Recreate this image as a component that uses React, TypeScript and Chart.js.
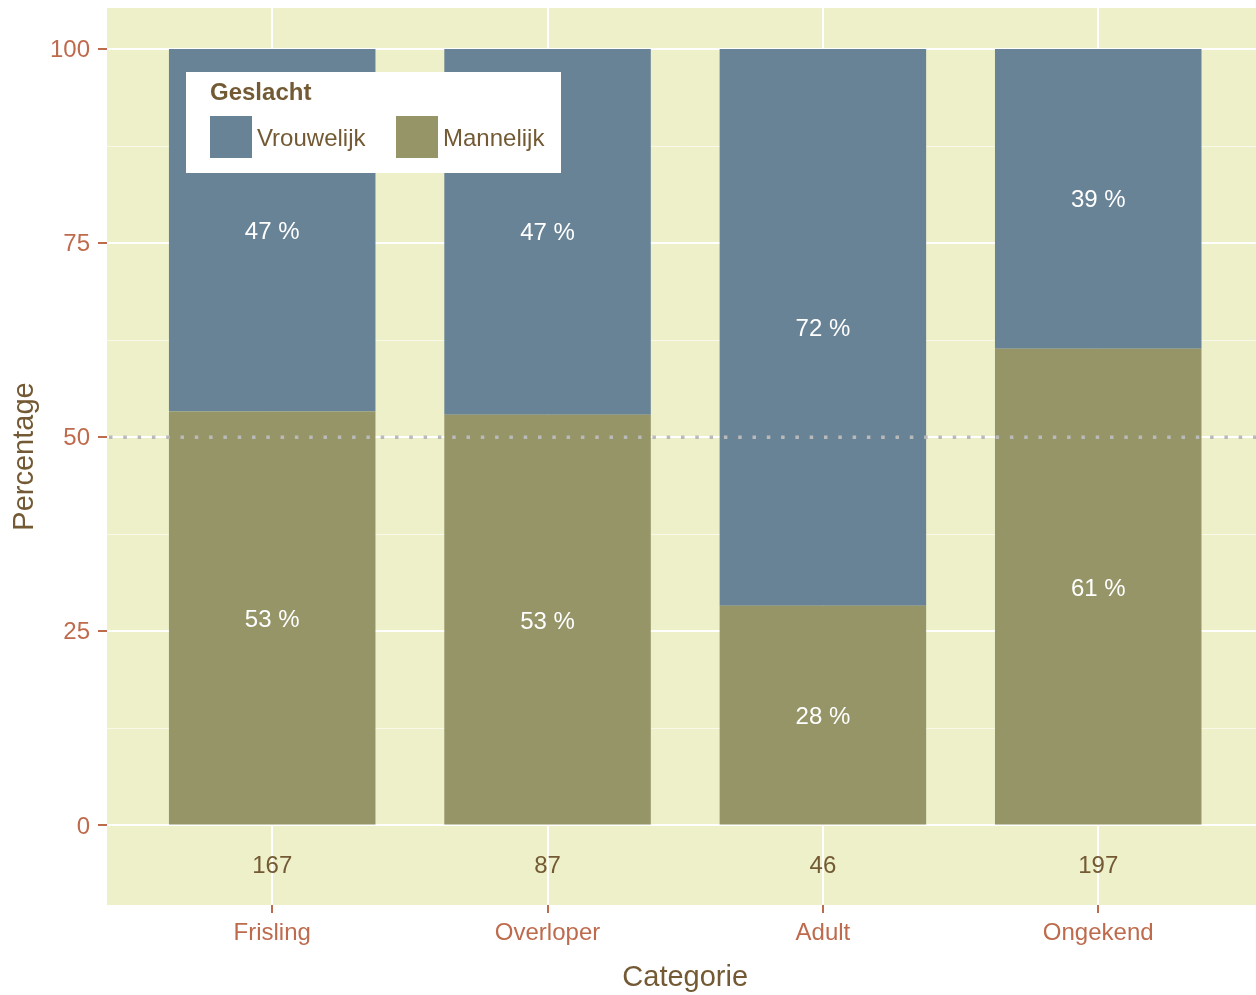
import React, { useEffect, useRef } from "react";
import { Chart, registerables } from "chart.js";

Chart.register(...registerables);

// ---- data ----
const categories = ["Frisling", "Overloper", "Adult", "Ongekend"];
const totals = [167, 87, 46, 197];
const mannelijk = [53.3, 52.9, 28.3, 61.4];
const vrouwelijk = [46.7, 47.1, 71.7, 38.6];
const yTicks = [0, 25, 50, 75, 100];
const yMinorTicks = [12.5, 37.5, 62.5, 87.5];
const seriesNames = ["Mannelijk", "Vrouwelijk"];
const legendTitle = "Geslacht";
const xTitle = "Categorie";
const yTitle = "Percentage";
const refLine = 50;
const countLabelValue = -5;

// ---- styles ----
const FONT = "'Liberation Sans', Arial, Helvetica, sans-serif";
const PANEL = "#EDF0C8";
const BLUE = "#698396";
const OLIVE = "#969568";
const RUST = "#BE6A4C";
const BROWN = "#735A34";
const SMALL = 24;
const BIG = 29;
const DIGIT_HALF = 0.358 * SMALL;
const X_MIN = -0.6;
const X_FULL_MAX = 3.6; // ggplot's panel end (image clips it)

const ggPlugin = {
  id: "ggPanel",
  beforeDraw(chart: any) {
    const { ctx, chartArea: a, scales } = chart;
    ctx.save();
    ctx.fillStyle = "#ffffff";
    ctx.fillRect(0, 0, chart.width, chart.height);
    ctx.fillStyle = PANEL;
    ctx.fillRect(a.left, a.top, a.right - a.left, a.bottom - a.top);
    ctx.strokeStyle = "rgba(255,255,255,0.6)";
    ctx.lineWidth = 1;
    for (const v of yMinorTicks) {
      const y = Math.round(scales.y.getPixelForValue(v)) + 0.5;
      ctx.beginPath();
      ctx.moveTo(a.left, y);
      ctx.lineTo(a.right, y);
      ctx.stroke();
    }
    ctx.restore();
  },
  afterDatasetsDraw(chart: any) {
    const { ctx, chartArea: a, scales, data } = chart;
    ctx.save();
    ctx.font = `${SMALL}px ${FONT}`;
    ctx.textAlign = "center";
    ctx.textBaseline = "alphabetic";
    ctx.fillStyle = "#ffffff";
    categories.forEach((_, i) => {
      let base = 0;
      data.datasets.forEach((ds: any) => {
        const v = ds.data[i].y;
        const mid = base + v / 2;
        ctx.fillText(
          `${Math.round(v)} %`,
          scales.x.getPixelForValue(i),
          scales.y.getPixelForValue(mid) + DIGIT_HALF
        );
        base += v;
      });
    });
    ctx.fillStyle = BROWN;
    totals.forEach((t, i) => {
      ctx.fillText(
        String(t),
        scales.x.getPixelForValue(i),
        scales.y.getPixelForValue(countLabelValue) + DIGIT_HALF
      );
    });
    // dotted reference line
    const y50 = scales.y.getPixelForValue(refLine);
    ctx.strokeStyle = "#B9B9B9";
    ctx.lineWidth = 3.5;
    ctx.setLineDash([3.5, 10.8]);
    ctx.beginPath();
    ctx.moveTo(a.left + 2, y50);
    ctx.lineTo(a.right, y50);
    ctx.stroke();
    ctx.restore();
  },
  afterDraw(chart: any) {
    const { ctx, chartArea: a, data, scales } = chart;
    ctx.save();
    // x axis title, centred on the full (clipped) ggplot panel
    ctx.fillStyle = BROWN;
    ctx.font = `${BIG}px ${FONT}`;
    ctx.textAlign = "center";
    ctx.textBaseline = "alphabetic";
    ctx.fillText(xTitle, scales.x.getPixelForValue((X_MIN + X_FULL_MAX) / 2), 986);
    // legend
    const bx = a.left + 79;
    const by = a.top + 64;
    const bw = 375;
    const bh = 101;
    ctx.fillStyle = "#ffffff";
    ctx.fillRect(bx, by, bw, bh);
    ctx.fillStyle = BROWN;
    ctx.textAlign = "left";
    ctx.font = `bold ${SMALL}px ${FONT}`;
    ctx.fillText(legendTitle, bx + 24, by + 27.5);
    ctx.font = `${SMALL}px ${FONT}`;
    const items = [...data.datasets].reverse();
    const keyX = [bx + 24, bx + 210];
    items.forEach((ds: any, k: number) => {
      const kx = keyX[k];
      const ky = by + 44;
      ctx.fillStyle = ds.backgroundColor;
      ctx.fillRect(kx, ky, 42, 42);
      ctx.fillStyle = BROWN;
      ctx.fillText(ds.label, kx + 47, ky + 30);
    });
    ctx.restore();
  },
};

export default function App() {
  const ref = useRef<HTMLCanvasElement | null>(null);

  useEffect(() => {
    if (!ref.current) return;
    const chart = new Chart(ref.current, {
      type: "bar",
      data: {
        datasets: [
          {
            label: seriesNames[0],
            data: mannelijk.map((v, i) => ({ x: i, y: v })),
            backgroundColor: OLIVE,
            borderWidth: 0,
            barPercentage: 0.75,
            categoryPercentage: 1,
          },
          {
            label: seriesNames[1],
            data: vrouwelijk.map((v, i) => ({ x: i, y: v })),
            backgroundColor: BLUE,
            borderWidth: 0,
            barPercentage: 0.75,
            categoryPercentage: 1,
          },
        ],
      },
      options: {
        animation: false,
        responsive: false,
        layout: { padding: { top: 8, left: 0, right: 0, bottom: 0 } },
        plugins: {
          legend: { display: false },
          tooltip: { enabled: false },
        },
        scales: {
          x: {
            type: "linear",
            stacked: true,
            min: X_MIN,
            max: 3.573,
            offset: false,
            afterBuildTicks: (s: any) => {
              s.ticks = categories.map((_, i) => ({ value: i }));
            },
            afterFit: (s: any) => {
              s.height = 90;
              s.paddingLeft = 0;
              s.paddingRight = 0;
            },
            ticks: {
              callback: (v: any) => categories[v as number],
              color: RUST,
              font: { family: FONT, size: SMALL },
              padding: 6,
              maxRotation: 0,
              autoSkip: false,
            },
            grid: {
              offset: false,
              color: "#ffffff",
              lineWidth: 2,
              tickColor: RUST,
              tickLength: 8,
              tickWidth: 2,
            },
            border: { display: false },
            title: { display: false },
          },
          y: {
            type: "linear",
            stacked: true,
            min: -10.24,
            max: 105.28,
            afterBuildTicks: (s: any) => {
              s.ticks = yTicks.map((v) => ({ value: v }));
            },
            afterFit: (s: any) => {
              s.width = 107;
              s.paddingTop = 0;
              s.paddingBottom = 0;
            },
            ticks: {
              color: RUST,
              font: { family: FONT, size: SMALL },
              padding: 8,
              labelOffset: 1.5,
              autoSkip: false,
            },
            grid: {
              color: "#ffffff",
              lineWidth: 2,
              tickColor: RUST,
              tickLength: 9,
              tickWidth: 2,
            },
            border: { display: false },
            title: {
              display: true,
              text: yTitle,
              color: BROWN,
              font: { family: FONT, size: BIG },
              padding: { top: 8, bottom: 0 },
            },
          },
        },
      } as any,
      plugins: [ggPlugin],
    });
    return () => chart.destroy();
  }, []);

  return (
    <div style={{ position: "absolute", left: 0, top: 0, width: 1256, height: 995, overflow: "hidden" }}>
      <canvas ref={ref} width={1256} height={995} style={{ display: "block" }} />
    </div>
  );
}
